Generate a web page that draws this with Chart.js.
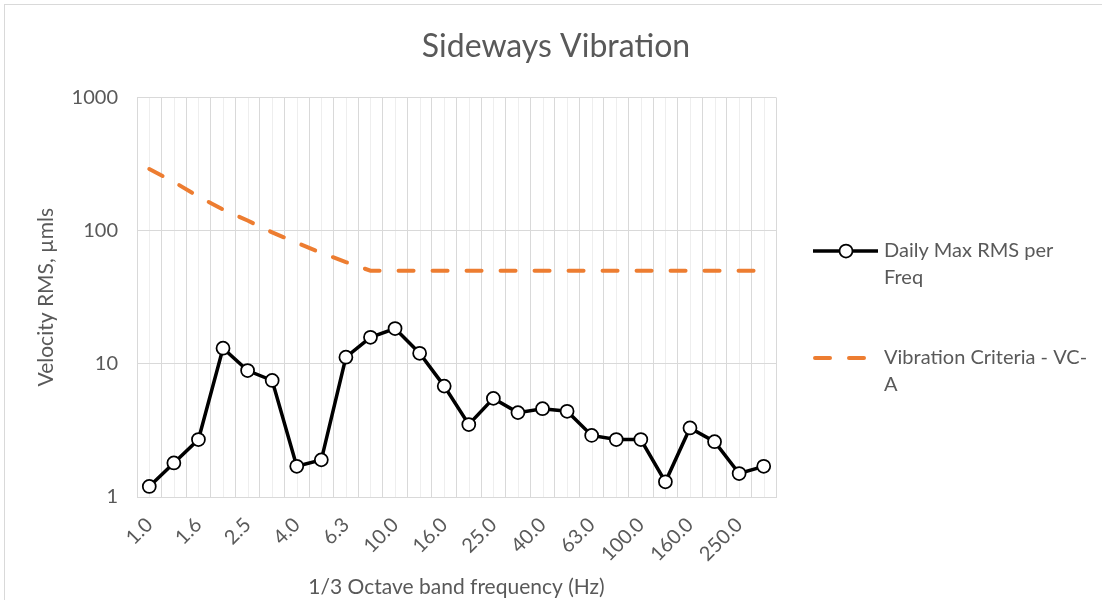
<!DOCTYPE html>
<html>
<head>
<meta charset="utf-8">
<script src="https://cdn.jsdelivr.net/npm/chart.js@4"></script>
<style>
    body { margin: 0; background: #fff; }
    #wrap { width: 1102px; height: 600px; }
</style>
</head>
<body>
<div id="wrap"><canvas id="vibration" width="1102" height="600"></canvas></div>
<script>
// 1/3 octave band centre frequencies (Hz)
const freqLabels = ["1.0", "1.3", "1.6", "2.0", "2.5", "3.2", "4.0", "5.0", "6.3", "8.0",
    "10.0", "12.5", "16.0", "20.0", "25.0", "31.5", "40.0", "50.0", "63.0", "80.0",
    "100.0", "125.0", "160.0", "200.0", "250.0", "315.0"];

// daily maximum RMS velocity per band, µm/s
const dailyMax = [1.2, 1.8, 2.7, 13.1, 8.9, 7.5, 1.7, 1.9, 11.2, 15.8,
    18.4, 12.0, 6.8, 3.5, 5.5, 4.3, 4.6, 4.4, 2.9, 2.7,
    2.7, 1.3, 3.3, 2.6, 1.5, 1.7];

// VC-A criterion curve, µm/s
const vcA = [290, 232, 180, 144, 119, 97, 81, 68, 58, 50,
    50, 50, 50, 50, 50, 50, 50, 50, 50, 50,
    50, 50, 50, 50, 50, 50];

const yTicks = [1, 10, 100, 1000];

const textGrey = "#595959";
const gridGrey = "#d9d9d9";
Chart.defaults.font.family = "Lato, 'Open Sans', sans-serif";
Chart.defaults.color = textGrey;

// outer frame + faint lines through each category centre
const frame = {
    id: "frame",
    beforeDraw(chart) {
        const { ctx, chartArea: a, scales: { x } } = chart;
        ctx.save();
        ctx.strokeStyle = gridGrey;
        ctx.lineWidth = 1;
        ctx.strokeRect(4.5, 4.5, 1200, 700);
        ctx.strokeStyle = "#eeeeee";
        freqLabels.forEach((_, i) => {
            const px = Math.round(x.getPixelForValue(i)) + 0.5;
            ctx.beginPath();
            ctx.moveTo(px, a.top);
            ctx.lineTo(px, a.bottom);
            ctx.stroke();
        });
        ctx.restore();
    }
};

// split on spaces and hyphens so long labels wrap like the office legend
function wrapText(ctx, text, maxWidth) {
    const parts = text.split(/(?<=[\s-])/);
    const lines = [];
    let line = "";
    for (const p of parts) {
        if (line && ctx.measureText((line + p).trimEnd()).width > maxWidth) {
            lines.push(line.trimEnd());
            line = p.trimStart();
        } else {
            line += p;
        }
    }
    if (line) lines.push(line.trimEnd());
    return lines;
}

// legend on the right, drawn by hand because labels need to wrap
const sideLegend = {
    id: "sideLegend",
    afterDraw(chart) {
        const { ctx } = chart;
        const rows = [251, 358];
        const lineGap = 27;
        ctx.save();
        ctx.font = "20px Lato, 'Open Sans', sans-serif";
        ctx.fillStyle = textGrey;
        ctx.textBaseline = "middle";
        chart.data.datasets.forEach((ds, i) => {
            const y = rows[i];
            ctx.save();
            ctx.strokeStyle = ds.borderColor;
            ctx.lineWidth = ds.borderWidth;
            ctx.lineCap = ds.borderDash ? "round" : "butt";
            ctx.setLineDash(ds.borderDash || []);
            ctx.beginPath();
            ctx.moveTo(ds.borderDash ? 815 : 813, y);
            ctx.lineTo(ds.borderDash ? 865 : 878, y);
            ctx.stroke();
            if (ds.pointRadius) {
                ctx.setLineDash([]);
                ctx.fillStyle = ds.pointBackgroundColor;
                ctx.lineWidth = ds.pointBorderWidth;
                ctx.beginPath();
                ctx.arc(846, y, ds.pointRadius, 0, Math.PI * 2);
                ctx.fill();
                ctx.stroke();
            }
            ctx.restore();
            wrapText(ctx, ds.label, 208).forEach((t, k) => ctx.fillText(t, 884, y + k * lineGap));
        });
        ctx.restore();
    }
};

new Chart(document.getElementById("vibration"), {
    type: "line",
    data: {
        labels: freqLabels,
        datasets: [{
            label: "Daily Max RMS per Freq",
            data: dailyMax,
            borderColor: "#000000",
            borderWidth: 3.5,
            pointRadius: 6.5,
            pointBackgroundColor: "#ffffff",
            pointBorderColor: "#000000",
            pointBorderWidth: 1.75,
            tension: 0
        }, {
            label: "Vibration Criteria - VC-A",
            data: vcA,
            borderColor: "#ed7d31",
            borderWidth: 4,
            borderDash: [15, 19],
            borderCapStyle: "round",
            pointRadius: 0,
            tension: 0
        }]
    },
    options: {
        responsive: false,
        animation: false,
        layout: { padding: { left: 10, top: 0, right: 0, bottom: 0 } },
        plugins: {
            legend: { display: false },
            tooltip: { enabled: false },
            title: {
                display: true,
                text: "Sideways Vibration",
                color: textGrey,
                font: { size: 32, weight: "normal" },
                padding: { top: 27, bottom: 32 }
            }
        },
        scales: {
            x: {
                offset: true,
                grid: { offset: true, color: gridGrey, drawTicks: false },
                border: { color: gridGrey },
                ticks: {
                    autoSkip: false,
                    minRotation: 45,
                    maxRotation: 45,
                    padding: 16,
                    font: { size: 20 },
                    callback: (v, i) => (i % 2 ? "" : freqLabels[i])
                },
                title: {
                    display: true,
                    text: "1/3 Octave band frequency (Hz)",
                    font: { size: 21 },
                    padding: { top: 0, bottom: 0 }
                },
                afterFit: (s) => { s.height = 103; }
            },
            y: {
                type: "logarithmic",
                min: 1,
                max: 1000,
                grid: { color: gridGrey, drawTicks: false },
                border: { color: gridGrey },
                ticks: {
                    padding: 19,
                    font: { size: 20 },
                    callback: (v) => String(v)
                },
                afterBuildTicks: (s) => { s.ticks = yTicks.map((v) => ({ value: v })); },
                title: {
                    display: true,
                    text: "Velocity RMS, µmls",
                    font: { size: 21 },
                    padding: { top: 24, bottom: 0 }
                },
                afterFit: (s) => { s.width = 127; }
            },
            // empty axis that only reserves room for the legend
            side: {
                type: "linear",
                position: "right",
                grid: { display: false },
                border: { display: false },
                ticks: { display: false },
                afterFit: (s) => { s.width = 326; }
            }
        }
    },
    plugins: [frame, sideLegend]
});
</script>
</body>
</html>
